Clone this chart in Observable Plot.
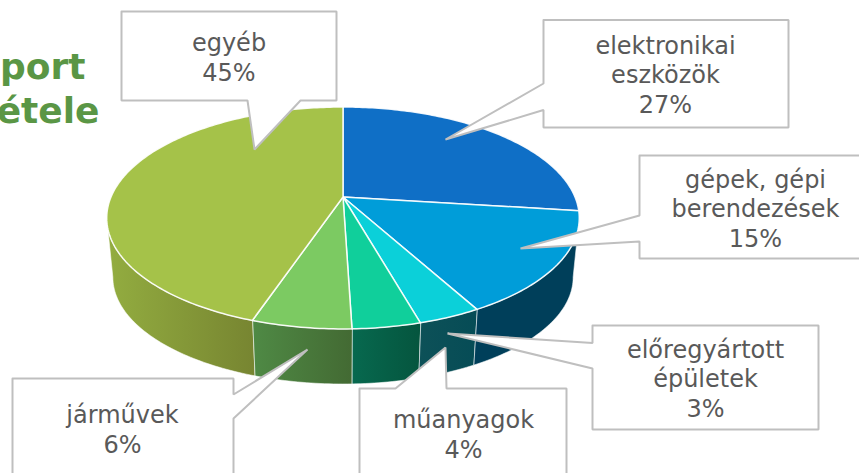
<!DOCTYPE html>
<html><head><meta charset="utf-8">
<script src="https://cdn.jsdelivr.net/npm/d3@7"></script>
<script src="https://cdn.jsdelivr.net/npm/@observablehq/plot@0.6"></script>
<style>html,body{margin:0;padding:0;background:#fff;overflow:hidden}svg{display:block}</style>
</head><body><div id="c"></div>
<script>
const categories = ["elektronikai\neszközök","gépek, gépi\nberendezések","előregyártott\népületek","műanyagok","járművek","egyéb"];
const labelPercents = [27,15,3,4,6,45];
const sliceShares = [27,15,3.6,3.9,5.7,44.8];
const topColors = ["#0f6fc6","#009dd9","#0bd0d9","#10cf9b","#7cca62","#a5c249"];
const wallFrom = ["#0a4a84","#003f5a","#0d5158","#07694f","#4f8a45","#93ad40"];
const wallTo   = ["#0a4a84","#003f5a","#064c56","#05553e","#436a33","#778531"];
const titleLines = [["port",85,78],["étele",99,122]];

// callout layout (annotation geometry, pixels)
const calloutShapes = [
 [[543,19.5],[788,19.5],[788,127],[543,127],[543,109.5],[445,139],[543,83]],
 [[639,155],[890,155],[890,258],[639,258],[639,241],[520,248],[639,215]],
 [[592,325],[818,325],[818,429],[592,429],[592,368],[447,333],[592,342.5]],
 [[359,388],[395,388],[445,347],[446,388],[566,388],[566,500],[359,500]],
 [[12,378],[233,378],[233,394],[307,349],[233,418],[233,500],[12,500]],
 [[121,11],[336,11],[336,100],[300,100],[254,149],[247,100],[121,100]]
];
const labelAnchors = [[665,112],[755,246],[705,416],[463,457],[122,452],[228.5,80]];

// pie projection
const C = {x:343, y:197}, R = 232, A = 107, P = 0.189;
const B = {y:257, R:226, A:103};
function projTop(t){const u=Math.sin(t),v=-Math.cos(t),w=1/(1-P*v);return [C.x+R*u*w,C.y+A*v*w];}
function projBot(t){const u=Math.sin(t),v=-Math.cos(t),w=1/(1-P*v);return [C.x+B.R*u*w,B.y+B.A*v*w];}
const total = d3.sum(sliceShares);
const cum = d3.cumsum(sliceShares);
const start = i => (i?cum[i-1]:0)/total*2*Math.PI, end = i => cum[i]/total*2*Math.PI;
const visA = Math.acos(-P), visB = 2*Math.PI-Math.acos(-P);
const samples = (a,b)=>{const n=Math.max(2,Math.ceil((b-a)*60));return d3.range(n+1).map(k=>a+(b-a)*k/n);};

const marks = [];
// side walls
categories.forEach((c,i)=>{
  const a=Math.max(start(i),visA), b=Math.min(end(i),visB);
  if(b<=a) return;
  const pts=samples(a,b).map(t=>({t:projTop(t),b:projBot(t)}));
  marks.push(Plot.area(pts,{x1:d=>d.t[0],y1:d=>d.t[1],x2:d=>d.b[0],y2:d=>d.b[1],fill:`url(#wall${i})`,stroke:"#fff",strokeOpacity:0.55,strokeWidth:1}));
});
// top wedges
categories.forEach((c,i)=>{
  const pts=samples(start(i),end(i)).map(projTop);
  marks.push(Plot.area(pts,{x1:()=>C.x,y1:()=>C.y,x2:d=>d[0],y2:d=>d[1],fill:topColors[i],stroke:"#fff",strokeOpacity:0.9,strokeWidth:1.5}));
});
// callouts
const calloutRows = calloutShapes.flatMap((s,i)=>[...s,s[0]].map(p=>({i,x:p[0],y:p[1]})));
marks.push(Plot.line(calloutRows,{x:"x",y:"y",z:"i",fill:"#fff",stroke:"#bfbfbf",strokeWidth:2,strokeLinejoin:"miter"}));
// callout text
marks.push(Plot.text(categories.map((c,i)=>({text:`${c}\n${labelPercents[i]}%`,x:labelAnchors[i][0],y:labelAnchors[i][1]})),
 {x:"x",y:"y",text:"text",textAnchor:"middle",lineAnchor:"bottom",lineHeight:1.22,fontSize:24,fill:"#595959"}));
// clipped title
marks.push(Plot.text(titleLines,{x:d=>d[1],y:d=>d[2],text:d=>d[0],textAnchor:"end",lineAnchor:"bottom",fontSize:36,fontWeight:"bold",fill:"#5a9645"}));

const svg = Plot.plot({
  width:859,height:473,margin:0,
  style:{fontFamily:"'DejaVu Sans',sans-serif",background:"#fff",overflow:"hidden"},
  x:{domain:[0,859],range:[0,859],axis:null},
  y:{domain:[0,473],range:[0,473],axis:null},
  marks
});
const defs = d3.select(svg).insert("defs",":first-child");
categories.forEach((c,i)=>{
  const g=defs.append("linearGradient").attr("id",`wall${i}`).attr("x1",0).attr("x2",1).attr("y1",0).attr("y2",0);
  g.append("stop").attr("offset",0).attr("stop-color",wallFrom[i]);
  g.append("stop").attr("offset",1).attr("stop-color",wallTo[i]);
});
document.getElementById("c").append(svg);
</script></body></html>
